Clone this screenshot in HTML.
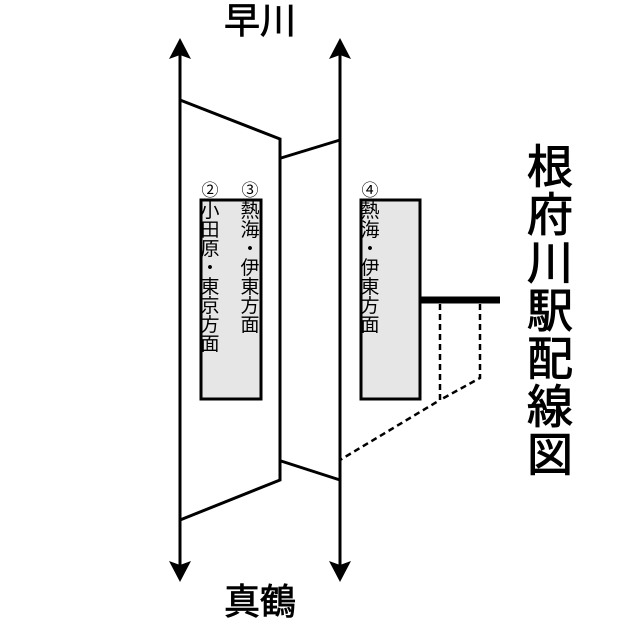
<!DOCTYPE html>
<html><head><meta charset="utf-8"><style>
body{margin:0;background:#fff;width:640px;height:630px;overflow:hidden}
</style></head><body>
<svg width="640" height="630" xmlns="http://www.w3.org/2000/svg" font-family="Liberation Sans, Noto Sans CJK JP, sans-serif">
<g stroke="#000" stroke-width="3" fill="none">
<line x1="180" y1="50" x2="180" y2="570"/>
<line x1="340" y1="50" x2="340" y2="570"/>
<polyline points="180,100 280,139 280,480 180,520"/>
<polyline points="281,158 340,140"/>
<polyline points="281,461 340,480"/>
</g>
<g fill="#000">
<polygon points="180,38 169,59 180,55 191,59"/>
<polygon points="340,38 329,59 340,55 351,59"/>
<polygon points="180,582 169,561 180,565 191,561"/>
<polygon points="340,582 329,561 340,565 351,561"/>
</g>
<rect x="201" y="200" width="60" height="199" fill="#e6e6e6" stroke="#000" stroke-width="3"/>
<rect x="361" y="200" width="59" height="199" fill="#e6e6e6" stroke="#000" stroke-width="3"/>
<line x1="420" y1="300" x2="500" y2="300" stroke="#000" stroke-width="7"/>
<g stroke="#000" stroke-width="2.5" fill="none" stroke-dasharray="6,4">
<polyline points="440,304 440,400 340,460"/>
<polyline points="480,304 480,378 440,400"/>
</g>
<g font-size="17" fill="#000" text-anchor="middle">
<text x="210" y="196">②</text><text x="250" y="196">③</text><text x="370" y="196">④</text>
</g>
<g font-size="19" fill="#000" text-anchor="middle">
<text x="210" y="217">小</text><text x="210" y="236">田</text><text x="210" y="255">原</text><text x="210" y="274">・</text><text x="210" y="293">東</text><text x="210" y="312">京</text><text x="210" y="331">方</text><text x="210" y="350">面</text>
<text x="250" y="217">熱</text><text x="250" y="236">海</text><text x="250" y="255">・</text><text x="250" y="274">伊</text><text x="250" y="293">東</text><text x="250" y="312">方</text><text x="250" y="331">面</text>
<text x="370" y="217">熱</text><text x="370" y="236">海</text><text x="370" y="255">・</text><text x="370" y="274">伊</text><text x="370" y="293">東</text><text x="370" y="312">方</text><text x="370" y="331">面</text>
</g>
<g font-size="36" fill="#000" stroke="#000" stroke-width="0.8" text-anchor="middle">
<text x="260" y="33">早川</text>
<text x="260" y="614">真鶴</text>
</g>
<g font-size="46" fill="#000" stroke="#000" stroke-width="1" text-anchor="middle">
<text x="550" y="183">根</text><text x="550" y="231">府</text><text x="550" y="279">川</text><text x="550" y="327">駅</text><text x="550" y="375">配</text><text x="550" y="423">線</text><text x="550" y="471">図</text>
</g>
</svg>
</body></html>
